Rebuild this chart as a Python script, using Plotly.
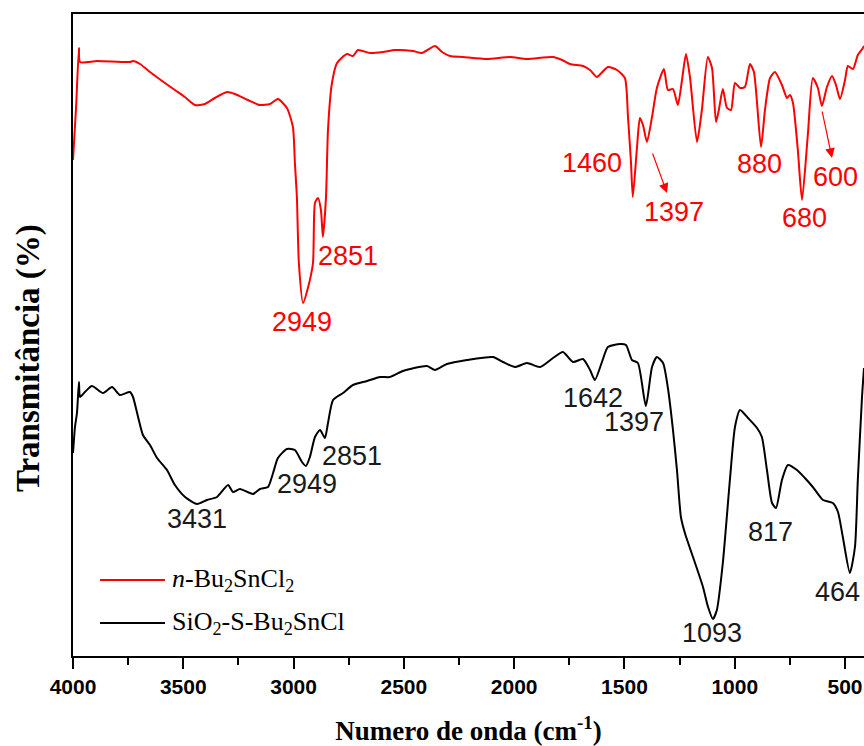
import plotly.graph_objects as go

# ---- data (transmittance in arbitrary, offset units) ----
wn_bu2sncl2 = [4000, 3986, 3973, 3968, 3891, 3742, 3728, 3696, 3651, 3583, 3538, 3493, 3447, 3402,
               3357, 3302, 3266, 3207, 3153, 3107, 3071, 3030, 3003, 2994, 2985, 2976, 2957, 2935,
               2912, 2903, 2889, 2876, 2867, 2853, 2844, 2826, 2803, 2758, 2731, 2708, 2654, 2595,
               2540, 2459, 2418, 2359, 2327, 2291, 2232, 2123, 2019, 1942, 1824, 1783, 1747, 1688,
               1656, 1625, 1575, 1534, 1498, 1484, 1471, 1462, 1443, 1430, 1416, 1398, 1375, 1353,
               1321, 1303, 1280, 1258, 1239, 1221, 1203, 1171, 1149, 1122, 1103, 1085, 1072, 1054,
               1035, 1017, 999, 976, 954, 931, 913, 881, 863, 840, 818, 786, 763, 750, 736, 714,
               695, 668, 646, 623, 605, 582, 559, 541, 523, 500, 487, 464, 442, 419, 414]
t_bu2sncl2 = [496, 549, 608, 594, 595, 594, 595, 592, 584, 573, 566, 559, 551, 552,
              558, 564, 562, 556, 551, 552, 557, 548, 529, 493, 459, 393, 353, 368,
              393, 453, 458, 446, 419, 459, 526, 573, 593, 602, 600, 606, 603, 604,
              606, 605, 603, 610, 604, 600, 599, 597, 599, 597, 599, 596, 592, 590,
              586, 579, 589, 586, 578, 539, 496, 459, 509, 538, 531, 514, 539, 568,
              587, 566, 567, 551, 576, 602, 579, 514, 546, 599, 588, 534, 546, 567,
              548, 546, 573, 568, 569, 592, 584, 509, 546, 578, 584, 571, 558, 561, 553, 506,
              456, 523, 578, 568, 550, 569, 580, 571, 557, 576, 590, 587, 601, 608, 610]

wn_sio2 = [4000, 3991, 3982, 3973, 3968, 3946, 3914, 3864, 3823, 3787, 3742, 3728, 3705, 3683,
           3651, 3619, 3574, 3538, 3492, 3438, 3393, 3347, 3297, 3275, 3243, 3184, 3152, 3116,
           3093, 3071, 3030, 2994, 2962, 2944, 2926, 2903, 2880, 2858, 2844, 2821, 2776, 2731,
           2667, 2608, 2563, 2504, 2395, 2359, 2305, 2214, 2096, 2051, 1996, 1942, 1883, 1824,
           1779, 1733, 1688, 1656, 1634, 1602, 1575, 1520, 1493, 1466, 1439, 1403, 1375, 1353,
           1325, 1303, 1280, 1262, 1244, 1226, 1180, 1144, 1121, 1099, 1081, 1054, 1022, 999,
           976, 940, 899, 877, 854, 831, 813, 786, 759, 718, 682, 646, 600, 555, 532, 510,
           478, 455, 442, 423, 414]
t_sio2 = [203, 229, 243, 274, 259, 264, 270, 263, 269, 261, 264, 259, 239, 221,
          211, 198, 186, 171, 159, 152, 156, 159, 171, 164, 167, 162, 167, 169,
          183, 198, 207, 206, 194, 190, 199, 219, 226, 218, 233, 256, 263, 271,
          275, 279, 279, 285, 290, 286, 292, 296, 299, 294, 289, 293, 289, 298,
          304, 294, 297, 286, 276, 294, 309, 312, 311, 296, 293, 250, 289, 299,
          293, 268, 226, 186, 139, 123, 93, 69, 49, 37, 46, 93, 176, 229,
          246, 238, 228, 219, 186, 153, 148, 176, 191, 186, 178, 169, 156, 153, 144, 119,
          83, 109, 176, 259, 288]

# peak labels: text, x (wavenumber), y (transmittance units)
red_labels = ["2949", "2851", "1460", "1397", "880", "680", "600"]
red_label_x = [2962, 2753, 1647, 1276, 886, 686, 541]
red_label_y = [334, 400, 493, 444, 492, 438, 479]

black_labels = ["3431", "2949", "2851", "1642", "1397", "1093", "817", "464"]
black_label_x = [3438, 2939, 2735, 1643, 1457, 1103, 840, 532]
black_label_y = [137, 172, 200, 258, 234, 23, 124, 64]

# arrows (tail -> head) for the red labels
arrow_tail_x = [1375, 605]
arrow_tail_y = [504, 546]
arrow_head_x = [1307, 559]
arrow_head_y = [463, 498]

x_ticks = [4000, 3500, 3000, 2500, 2000, 1500, 1000, 500]

series_names = ["<i>n</i>-Bu<sub>2</sub>SnCl<sub>2</sub>", "SiO<sub>2</sub>-S-Bu<sub>2</sub>SnCl"]
series_colors = ["#ff0000", "#000000"]

fig = go.Figure()
fig.add_trace(go.Scatter(x=wn_bu2sncl2, y=t_bu2sncl2, mode="lines",
                         line=dict(color=series_colors[0], width=2, shape="spline", smoothing=0.6),
                         name=series_names[0], showlegend=False))
fig.add_trace(go.Scatter(x=wn_sio2, y=t_sio2, mode="lines",
                         line=dict(color=series_colors[1], width=2, shape="spline", smoothing=0.6),
                         name=series_names[1], showlegend=False))

annotations = []
for txt, x, y in zip(red_labels, red_label_x, red_label_y):
    annotations.append(dict(x=x, y=y, xref="x", yref="y", text=txt, showarrow=False,
                            font=dict(family="Liberation Sans, Arial", size=27, color="#ff0000")))
for txt, x, y in zip(black_labels, black_label_x, black_label_y):
    annotations.append(dict(x=x, y=y, xref="x", yref="y", text=txt, showarrow=False,
                            font=dict(family="Liberation Sans, Arial", size=27, color="#1a1a1a")))
for tx, ty, hx, hy in zip(arrow_tail_x, arrow_tail_y, arrow_head_x, arrow_head_y):
    annotations.append(dict(x=hx, y=hy, xref="x", yref="y", ax=tx, ay=ty, axref="x", ayref="y",
                            text="", showarrow=True, arrowhead=2, arrowsize=1.6, arrowwidth=1.2,
                            arrowcolor="#ff0000"))

# manual legend
legend_y = [0.1184, 0.0514]
shapes = []
for name, color, ly in zip(series_names, series_colors, legend_y):
    shapes.append(dict(type="line", xref="paper", yref="paper", x0=0.0341, x1=0.1163,
                       y0=ly, y1=ly, line=dict(color=color, width=2)))
    annotations.append(dict(x=0.1226, y=ly, xref="paper", yref="paper", xanchor="left",
                            yanchor="middle", text=name, showarrow=False,
                            font=dict(family="Liberation Serif, Times New Roman", size=26,
                                      color="#000000")))

# y-axis title (placed as text beside the axis)
annotations.append(dict(x=-0.0569, y=0.464, xref="paper", yref="paper", xanchor="center",
                        yanchor="middle", text="Transmitância (%)", textangle=-90, showarrow=False,
                        font=dict(family="Liberation Serif, Times New Roman", size=33,
                                  color="black", weight="bold")))

fig.update_layout(
    width=864, height=746,
    margin=dict(l=73, r=0, t=14, b=90),
    plot_bgcolor="white", paper_bgcolor="white",
    annotations=annotations, shapes=shapes,
    xaxis=dict(range=[4000, 414], tickvals=x_ticks, ticktext=[str(v) for v in x_ticks],
               showline=True, linecolor="black", linewidth=2, mirror=True,
               ticks="outside", ticklen=11, tickwidth=2, tickcolor="black",
               minor=dict(dtick=250, tick0=0, ticks="outside", ticklen=7, tickwidth=2,
                          tickcolor="black", showgrid=False),
               showgrid=False, zeroline=False,
               tickfont=dict(family="Liberation Sans, Arial", size=21, color="black",
                             weight="bold"),
               title=dict(text="Numero de onda (cm<sup>-1</sup>)", standoff=28,
                          font=dict(family="Liberation Serif, Times New Roman", size=27,
                                    color="black", weight="bold"))),
    yaxis=dict(range=[0, 642], showline=True, linecolor="black", linewidth=2,
               showticklabels=False, ticks="", showgrid=False, zeroline=False),
)

fig.write_html("out.html", config={"displayModeBar": False},
               post_script="document.body.style.margin='0';document.body.style.overflow='hidden';")
